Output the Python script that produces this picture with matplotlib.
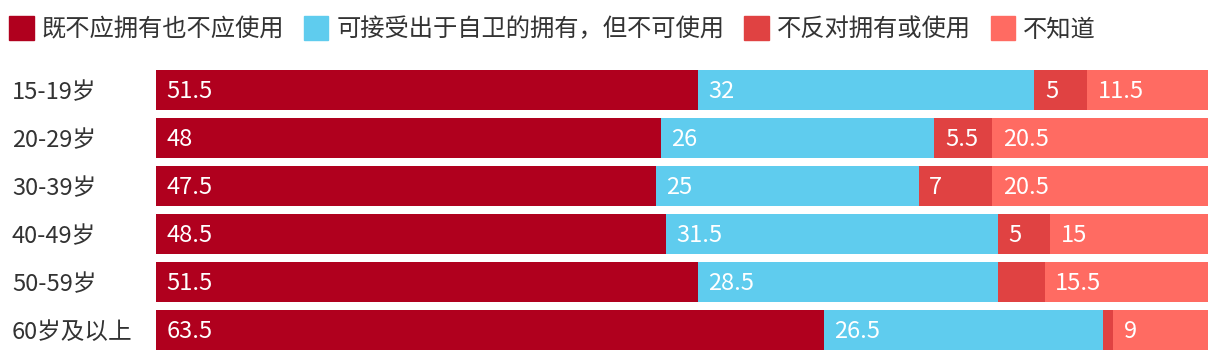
import numpy as np
import matplotlib.pyplot as plt
from matplotlib.patches import Patch

plt.rcParams['font.family'] = ['Noto Sans CJK SC', 'DejaVu Sans']

ages = ['15-19岁', '20-29岁', '30-39岁', '40-49岁', '50-59岁', '60岁及以上']
series_names = ['既不应拥有也不应使用', '可接受出于自卫的拥有，但不可使用', '不反对拥有或使用', '不知道']
never = [51.5, 48, 47.5, 48.5, 51.5, 63.5]
self_defense = [32, 26, 25, 31.5, 28.5, 26.5]
no_objection = [5, 5.5, 7, 5, 4.5, 1]
dont_know = [11.5, 20.5, 20.5, 15, 15.5, 9]
colors = ['#B0001E', '#5FCCEE', '#E04242', '#FF6B62']

W, H = 1220, 360
fig = plt.figure(figsize=(W / 100, H / 100), dpi=100)
ax = fig.add_axes([156 / W, 1 - 354 / H, (1208 - 156) / W, 288 / H])

y = np.arange(len(ages))
left = np.zeros(len(ages))
for vals, name, c in zip([never, self_defense, no_objection, dont_know], series_names, colors):
    vals = np.array(vals, dtype=float)
    ax.barh(y, vals, left=left, height=40 / 48, color=c, label=name)
    for yi, l, v in zip(y, left, vals):
        # narrow segments carry no label
        if v >= 5:
            ax.annotate(f'{v:g}', (l, yi), xytext=(7.5, -1), textcoords='offset points',
                        va='center', ha='left', color='white', fontsize=17, fontweight='light')
    left += vals

ax.set_xlim(0, 100)
ax.set_ylim(len(ages) - 0.5, -0.5)
ax.set_yticks(y)
ax.set_yticklabels(ages, ha='left', fontsize=17, color='#333333', fontweight='light')
ax.tick_params(axis='y', length=0, pad=144 * 0.72)
ax.set_xticks([])
for s in ax.spines.values():
    s.set_visible(False)

handles = [Patch(color=c) for c in colors]
fig.legend(handles, series_names, loc='upper left', bbox_to_anchor=(2 / W, 1 - 9 / H),
           ncol=4, frameon=False, labelcolor='#333333',
           prop={'size': 17.5, 'weight': 'light'},
           handlelength=1.0, handleheight=1.15, handletextpad=0.33, columnspacing=0.82,
           borderaxespad=0, borderpad=0.3)

fig.savefig('out.png', dpi=100)
